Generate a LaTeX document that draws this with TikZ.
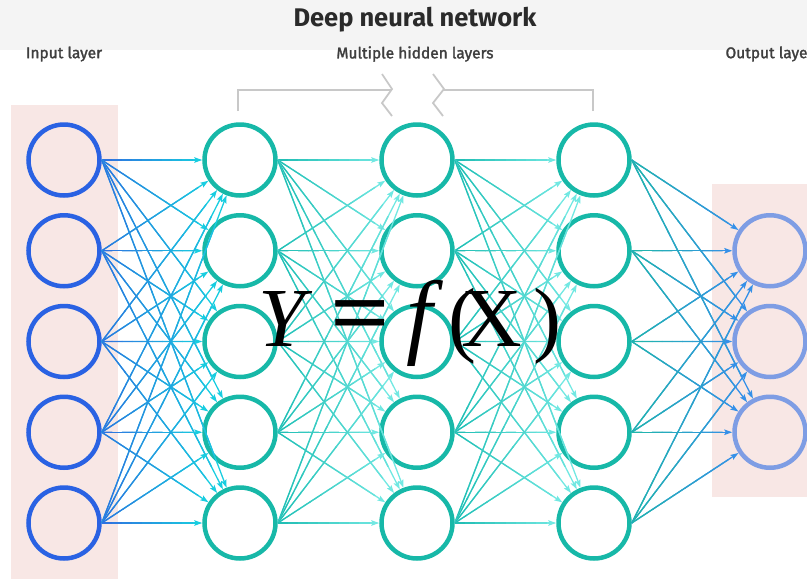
\documentclass[tikz,border=0pt]{standalone}
\usepackage{fontspec}
\usepackage{graphicx}
\setsansfont{Fira Sans}
\newfontfamily\eqfont{Liberation Serif}
\newfontfamily\lblfont{Fira Sans}[FakeBold=1.8]
\usetikzlibrary{arrows.meta,calc}
\definecolor{inblue}{HTML}{2A62E3}
\definecolor{hteal}{HTML}{17B8A8}
\definecolor{outblue}{HTML}{7E9DE4}
\definecolor{pinkbg}{HTML}{F8E7E5}
\definecolor{titlebg}{HTML}{F4F4F4}
\definecolor{brgray}{HTML}{C8C8C8}
\definecolor{txtdark}{HTML}{2A2A2A}
\definecolor{eas}{HTML}{2F6EE0}
\definecolor{eae}{HTML}{18CDE0}
\definecolor{ebs}{HTML}{1FBDB3}
\definecolor{ebe}{HTML}{72E8E2}
\definecolor{ecs}{HTML}{1FB8A8}
\definecolor{ece}{HTML}{3590E8}
\tikzset{
  neuron/.style={circle, minimum size=71pt, inner sep=0pt, outer sep=2.25pt, line width=4.5pt},
  inneuron/.style={neuron, draw=inblue},
  hneuron/.style={neuron, draw=hteal},
  outneuron/.style={neuron, draw=outblue},
  edge/.style={line width=1.3pt, -{Stealth[length=8pt,width=5.5pt,inset=1.5pt]}},
  gseg/.style={line width=1.3pt},
  bracket/.style={draw=brgray, line width=1.8pt, line join=miter},
  lbl/.style={font=\lblfont\fontsize{15.5}{18}\selectfont, text=txtdark!90},
}
\newcommand\gedge[4]{%
  \draw[edge,#4] (#1.east) -- (#2) coordinate[pos=0] (gs) coordinate[pos=1] (ge);
  \foreach \k in {0,...,8}{%
    \pgfmathtruncatemacro\pc{95-10*\k}%
    \pgfmathsetmacro\ta{\k/10}%
    \pgfmathsetmacro\tb{\k/10+0.105}%
    \draw[gseg,#3!\pc!#4] ($(gs)!\ta!(ge)$) -- ($(gs)!\tb!(ge)$);
  }%
}
\begin{document}
\begin{tikzpicture}[x=1pt,y=-1pt]
\useasboundingbox (0,0) rectangle (807,579);
% backgrounds
\fill[titlebg] (0,0) rectangle (807,50);
\fill[pinkbg] (11,105) rectangle (118,579);
\fill[pinkbg] (712,184) rectangle (807,497);
% title and labels
\node[font=\sffamily\bfseries\fontsize{25.5}{30}\selectfont, text=txtdark] (title) at (415,20) {Deep neural network};
\node[lbl] (linput) at (64,54) {Input layer};
\node[lbl] (lhidden) at (415,54) {Multiple hidden layers};
\node[lbl, anchor=west] (loutput) at (722,54) {Output layer};
% bracket
\draw[bracket] (238,111) -- (238,90) -- (392,90);
\draw[bracket] (382,74) -- (392,89) -- (382,103) -- (392,116);
\draw[bracket] (593,111) -- (593,90) -- (444,90);
\draw[bracket] (433,74) -- (444,89) -- (433,103) -- (443,116);
% neurons
\foreach \i in {1,...,5}{
  \node[inneuron] (in\i) at (64,{160+90.75*(\i-1)}) {};
  \node[hneuron] (ha\i) at (240,{160+90.75*(\i-1)}) {};
  \node[hneuron] (hb\i) at (417,{160+90.75*(\i-1)}) {};
  \node[hneuron] (hc\i) at (594,{160+90.75*(\i-1)}) {};
}
\foreach \i in {1,2,3}{
  \node[outneuron] (out\i) at (770,{250.75+90.75*(\i-1)}) {};
}
% connectors
\foreach \i in {1,...,5}{\foreach \j in {1,...,5}{\gedge{in\i}{ha\j}{eas}{eae}}}
\foreach \i in {1,...,5}{\foreach \j in {1,...,5}{\gedge{ha\i}{hb\j}{ebs}{ebe}}}
\foreach \i in {1,...,5}{\foreach \j in {1,...,5}{\gedge{hb\i}{hc\j}{ebs}{ebe}}}
\foreach \i in {1,...,5}{\foreach \j in {1,2,3}{\gedge{hc\i}{out\j}{ecs}{ece}}}
% formula
\node[font=\eqfont\fontsize{84}{84}\selectfont, anchor=base west, inner sep=0pt] (eq) at (258,346)
  {\makebox[72pt][l]{\itshape Y}\makebox[72pt][l]{\raisebox{2pt}{\scalebox{1.25}[1.12]{\bfseries =}}}\makebox[46pt][l]{\kern4pt\scalebox{1.12}{\itshape f}}\makebox[13pt][l]{(}\makebox[72pt][l]{X}\makebox[20pt][l]{)}};
\end{tikzpicture}
\end{document}
